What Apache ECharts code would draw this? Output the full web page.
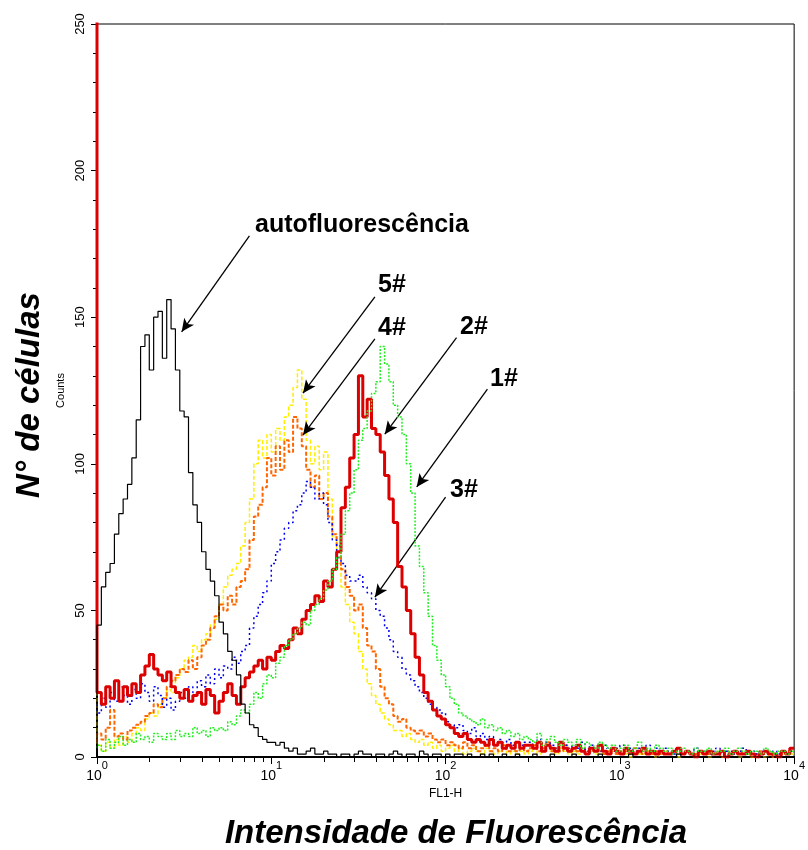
<!DOCTYPE html>
<html><head><meta charset="utf-8">
<script src="https://cdn.jsdelivr.net/npm/echarts@6/dist/echarts.min.js"></script>
<style>html,body{margin:0;padding:0;background:#fff}#c{width:808px;height:850px}</style>
</head><body><div id="c"></div>
<script>
// FL1-H channel grid: 161 channels spaced 1/40 decade from 10^0 to 10^4
const channels = Array.from({length: 161}, (_, i) => Math.pow(10, i / 40));
const xLabelValues = [1, 10, 100, 1000, 10000];
const xMinorTickLogs = [];
for (let d = 0; d < 4; d++) for (let m = 2; m < 10; m++) xMinorTickLogs.push(d + Math.log10(m));

// counts per channel
const autofluorescencia = [
 0,45,58,63,66,76,83,88,93,102,
 115,140,144,132,150,152,136,156,146,132,
 118,116,97,86,80,70,64,60,55,46,
 42,36,33,28,18,15,11,10,7,6,
 5,5,4,5,3,2,3,1,1,2,
 3,1,1,2,1,1,0,1,1,0,
 1,2,1,1,0,1,1,0,1,2,
 1,0,1,1,0,2,1,0,1,1,
 0,1,0,1,1,0,1,0,0,1,
 0,1,0,0,1,0,0,1,0,0,
 0,1,0,0,0,1,0,0,0,0,
 1,0,0,0,0,0,1,0,0,0,
 0,0,0,1,0,0,0,0,0,0,
 0,0,0,0,1,0,0,0,0,0,
 0,0,0,0,0,0,0,0,0,0,
 0,0,0,0,0,0,0,0,0,0,
 0];
const s1 = [ // green, 1#
 3,4,2,6,3,5,7,4,6,5,
 8,6,7,5,8,7,6,8,6,9,
 7,8,7,10,8,9,7,10,9,10,
 9,12,11,14,16,15,18,22,20,25,
 28,27,32,34,38,40,42,44,46,45,
 50,52,54,57,60,64,68,76,84,90,
 98,108,112,118,124,128,140,134,128,120,
 116,110,100,90,72,65,56,48,38,33,
 28,24,20,18,15,14,13,12,11,13,
 10,11,9,10,8,9,7,8,6,7,
 6,5,8,4,6,7,5,4,6,5,
 4,6,3,5,4,3,5,4,3,4,
 2,3,4,2,3,5,2,3,2,4,
 3,2,3,1,2,3,2,1,3,2,
 2,3,1,2,2,3,1,2,3,2,
 1,2,2,1,3,2,1,2,2,1,
 2];
const s2 = [ // red, 2#
 300,22,18,24,20,26,19,24,21,25,
 22,28,31,35,30,28,26,29,24,22,
 20,23,19,21,22,18,23,21,15,19,
 22,25,21,18,24,27,29,31,33,30,
 34,33,36,38,37,40,44,42,47,50,
 52,55,53,60,58,64,70,85,92,102,
 110,130,116,122,112,110,104,96,88,80,
 65,58,50,42,34,28,22,19,16,14,
 13,11,10,8,7,8,6,5,6,5,
 4,6,4,5,3,4,3,5,3,4,
 4,3,5,2,4,3,2,5,3,2,
 3,4,2,1,3,2,4,2,1,3,
 2,1,3,2,1,2,3,1,2,1,
 2,1,1,2,3,1,2,1,0,2,
 1,2,1,1,2,0,1,2,1,1,
 2,1,0,1,2,1,1,0,2,1,
 3];
const s3 = [ // blue, 3#
 18,15,20,17,22,19,24,21,18,23,
 20,25,22,19,24,21,17,20,16,19,
 22,20,24,22,26,24,28,25,30,27,
 31,30,34,32,36,38,44,48,52,56,
 60,66,70,74,78,80,84,86,90,94,
 92,88,90,86,80,74,68,66,62,60,
 60,62,58,56,54,50,48,44,40,36,
 34,30,28,26,24,22,20,18,17,16,
 15,12,11,10,11,9,8,10,7,8,
 6,7,5,6,5,6,4,5,4,5,
 5,4,6,3,5,4,3,5,4,3,
 4,3,5,2,4,3,2,4,3,2,
 3,4,2,3,2,3,2,4,2,3,
 2,3,2,1,3,2,2,1,3,2,
 2,1,2,3,1,2,2,1,2,3,
 1,2,1,2,2,1,2,1,2,1,
 2];
const s4 = [ // orange, 4#
 5,8,6,10,16,7,8,6,9,10,
 11,12,14,15,18,17,20,24,26,28,
 30,29,33,30,34,38,40,44,48,52,
 50,55,52,58,60,64,74,82,86,92,
 102,96,106,98,108,104,116,112,106,98,
 92,96,88,90,82,76,72,64,58,55,
 50,52,44,38,36,30,24,20,18,14,
 12,13,10,9,8,9,7,8,6,5,
 6,4,5,4,3,5,3,4,2,3,
 4,2,3,2,4,2,3,2,3,2,
 3,4,2,3,5,2,3,2,4,2,
 3,2,3,1,2,3,2,1,2,3,
 1,2,2,1,3,2,1,2,1,2,
 1,2,1,1,2,1,2,1,1,2,
 1,1,2,1,0,2,1,1,2,1,
 1,0,1,2,1,1,0,1,1,2,
 2];
const s5 = [ // yellow, 5#
 145,4,2,5,3,6,4,7,5,8,
 10,9,13,15,14,18,20,23,22,27,
 30,33,34,38,36,40,42,45,47,52,
 58,62,64,66,72,80,88,100,108,102,
 110,104,112,108,116,120,126,132,122,108,
 100,106,98,104,88,75,66,58,52,46,
 42,36,30,25,21,18,15,13,11,9,
 9,7,8,6,5,6,4,5,3,4,
 2,3,4,2,3,1,2,3,2,1,
 3,2,1,2,3,1,2,1,2,1,
 2,3,1,2,4,2,1,3,2,1,
 2,1,3,1,2,1,2,1,1,2,
 1,2,1,0,2,1,1,2,1,0,
 1,2,1,1,0,1,2,1,0,1,
 1,0,1,1,2,0,1,1,0,1,
 1,0,1,1,0,1,1,0,1,1,
 1];

// annotation arrows [fromX, fromY, toX, toY] in data units
const arrows = [
 [7.49, 177.7, 3.06, 145.0],
 [39.3, 156.9, 15.2, 124.1],
 [39.3, 142.6, 15.2, 109.8],
 [115.6, 143.0, 44.8, 110.1],
 [173.8, 125.5, 68.3, 92.1],
 [100, 88.6, 39.3, 54.5]
];

function series(name, values, color, width, dash, z) {
  return {
    type: 'line', name, step: 'start', showSymbol: false, symbol: 'none',
    silent: true, z, clip: true, xAxisIndex: 0,
    data: channels.map((c, i) => [c, values[i]]),
    lineStyle: { color, width, type: dash }
  };
}

const chart = echarts.init(document.getElementById('c'));
const FONT = '"Liberation Sans", Arial, sans-serif';
const allSeries = [
  series('5#', s5, '#ffee00', 1.5, [4, 2], 2),
  series('4#', s4, '#ff6600', 2, [4, 2], 3),
  series('3#', s3, '#0000ee', 1.5, [2, 3], 4),
  series('2#', s2, '#dd0000', 3, 'solid', 5),
  series('1#', s1, '#22ee22', 1.5, [2, 1.5], 6),
  series('autofluorescência', autofluorescencia, '#000000', 1.2, 'solid', 7)
];
allSeries[5].markLine = {
  silent: true, animation: false,
  symbol: ['none', 'arrow'], symbolSize: [9, 13],
  label: { show: false },
  lineStyle: { color: '#000', width: 1.3, type: 'solid' },
  data: arrows.map(a => [{ coord: [a[0], a[1]] }, { coord: [a[2], a[3]] }])
};

function txt(x, y, s, size) {
  return { type: 'text', x, y, z: 100,
    style: { text: s, font: 'bold ' + size + 'px ' + FONT, fill: '#000', align: 'left', verticalAlign: 'middle', textAlign: 'left', textVerticalAlign: 'middle' } };
}

chart.setOption({
  animation: false,
  backgroundColor: '#fff',
  grid: { left: 97, right: 11, top: 24, bottom: 93, show: true, borderColor: '#000', borderWidth: 1, backgroundColor: 'transparent' },
  xAxis: [{
    type: 'log', logBase: 10, min: 1, max: 10000, position: 'bottom',
    name: 'FL1-H', nameLocation: 'middle', nameGap: 24,
    nameTextStyle: { fontSize: 12, color: '#000', fontFamily: FONT },
    axisLine: { lineStyle: { color: '#000', width: 2 } },
    axisTick: { show: true, length: 7, lineStyle: { color: '#000', width: 1 }, customValues: xLabelValues },
    axisLabel: {
      customValues: xLabelValues, margin: 12,
      formatter: v => '{b|10}{s|' + Math.round(Math.log10(v)) + '}',
      rich: {
        b: { fontSize: 14, lineHeight: 14, color: '#000', fontFamily: FONT, verticalAlign: 'bottom' },
        s: { fontSize: 11, lineHeight: 11, color: '#000', fontFamily: FONT, verticalAlign: 'bottom', padding: [0, 0, 12, 0] }
      }
    },
    splitLine: { show: false }, minorTick: { show: false }
  }, {
    type: 'value', min: 0, max: 4, position: 'bottom', offset: 0,
    axisLine: { show: false },
    axisTick: { show: true, length: 5, lineStyle: { color: '#000', width: 1 }, customValues: xMinorTickLogs },
    axisLabel: { show: false }, splitLine: { show: false }
  }],
  yAxis: {
    type: 'value', min: 0, max: 250, interval: 50,
    name: 'Counts', nameLocation: 'middle', nameGap: 22, nameRotate: 90,
    nameTextStyle: { fontSize: 11, color: '#000', fontFamily: FONT },
    axisLine: { show: true, lineStyle: { color: '#000', width: 2 } },
    axisTick: { show: true, length: 6, lineStyle: { color: '#000', width: 1 } },
    minorTick: { show: true, splitNumber: 5, length: 4, lineStyle: { color: '#000', width: 1 } },
    axisLabel: { rotate: 90, margin: 10, fontSize: 13, color: '#000', fontFamily: FONT },
    splitLine: { show: false }
  },
  graphic: [
    { type: 'text', x: 30, y: 395, rotation: Math.PI / 2, z: 100,
      style: { text: 'N° de células', font: 'italic bold 33px ' + FONT, fill: '#000', align: 'center', verticalAlign: 'middle', textAlign: 'center', textVerticalAlign: 'middle' } },
    { type: 'text', x: 456, y: 834, z: 100,
      style: { text: 'Intensidade de Fluorescência', font: 'italic bold 33px ' + FONT, fill: '#000', align: 'center', verticalAlign: 'middle', textAlign: 'center', textVerticalAlign: 'middle' } },
    txt(255, 225, 'autofluorescência', 25),
    txt(378, 285, '5#', 25),
    txt(378, 328, '4#', 25),
    txt(460, 327, '2#', 25),
    txt(490, 379, '1#', 25),
    txt(450, 490, '3#', 25)
  ],
  series: allSeries
});
</script></body></html>
